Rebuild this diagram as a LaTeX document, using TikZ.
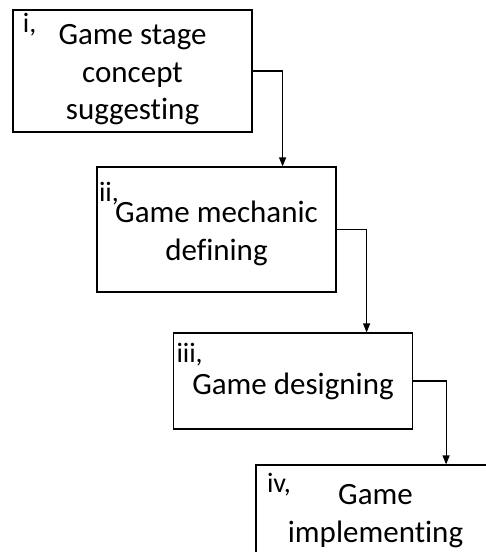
\documentclass[tikz,border=0pt]{standalone}
\usepackage{fontspec}
\setmainfont{Carlito}[Ligatures=NoCommon]
\usetikzlibrary{arrows.meta}
\begin{document}
\begin{tikzpicture}[x=1pt, y=-1pt, >={Triangle[width=7pt,length=9pt]}, line width=1.2pt,
	stagebox/.style={draw, minimum width=239pt, inner sep=0pt},
	stagetext/.style={align=center, inner sep=0pt, font=\fontsize{31}{37.5}\selectfont},
	stagenum/.style={anchor=north west, inner sep=0pt, font=\fontsize{28}{32}\selectfont}]
	\useasboundingbox (0,0) rectangle (486,552);
	\clip (0,0) rectangle (486,552);
	% Cac buoc
	\node[stagebox, minimum height=122pt] (s1) at (132.5,71) {};
	\node[stagebox, minimum height=125pt] (s2) at (216.5,229.5) {};
	\node[stagebox, minimum height=96pt] (s3) at (293,381) {};
	\node[stagebox, minimum height=100pt] (s4) at (375.5,515) {};
	\node[stagetext] (g1) at ([yshift=-4]s1.center) {Game stage\\concept\\suggesting};
	\node[stagetext] (g2) at ([yshift=-4]s2.center) {Game mechanic\\defining};
	\node[stagetext] (g3) at ([yshift=-5]s3.center) {Game designing};
	\node[stagetext] (g4) at ([yshift=-1]s4.center) {Game\\implementing};
	% So thu tu
	\node[stagenum] (n1) at ([shift={(10,3)}]s1.north west) {i,};
	\node[stagenum] (n2) at ([shift={(2,15)}]s2.north west) {ii,};
	\node[stagenum] (n3) at ([shift={(3,10)}]s3.north west) {iii,};
	\node[stagenum] (n4) at ([shift={(11,8)}]s4.north west) {iv,};
	% Mui ten
	\draw[->] (s1.east) -- ++(30,0) coordinate (t1) -- (t1 |- s2.north);
	\draw[->] (s2.east) -- ++(30,0) coordinate (t2) -- (t2 |- s3.north);
	\draw[->] (s3.east) -- ++(33,0) coordinate (t3) -- (t3 |- s4.north);
\end{tikzpicture}
\end{document}
